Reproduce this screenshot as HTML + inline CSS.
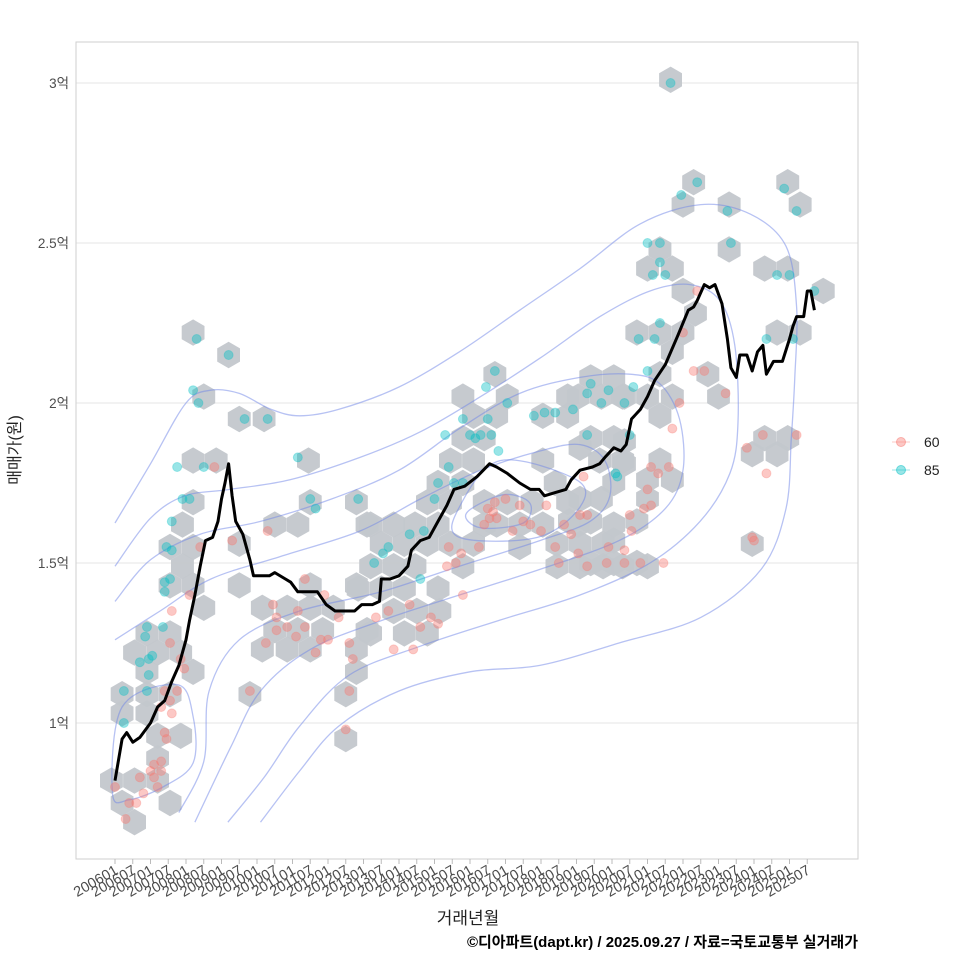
<!DOCTYPE html>
<html><head><meta charset="utf-8">
<style>
html,body{margin:0;padding:0;background:#fff;}
svg{display:block;font-family:"Liberation Sans","Noto Sans CJK KR",sans-serif;}
</style></head>
<body>
<svg id="chart" width="960" height="960" viewBox="0 0 960 960">
<rect x="0" y="0" width="960" height="960" fill="#fff"/>
<g id="grid"></g>
<g id="hexes"></g>
<g id="contours"></g>
<g id="points"></g>
<g id="trend"></g>
<rect x="76" y="42" width="782" height="817" fill="none" stroke="#cfcfcf" stroke-width="1"/>
<g id="axes"></g>
<text x="468" y="924" font-size="17" fill="#222" text-anchor="middle">거래년월</text>
<text x="20" y="450" font-size="16" fill="#222" text-anchor="middle" transform="rotate(-90 20 450)">매매가(원)</text>
<text x="858" y="947" font-size="15" font-weight="bold" fill="#000" text-anchor="end">©디아파트(dapt.kr) / 2025.09.27 / 자료=국토교통부 실거래가</text>
<g>
  <g>
    <line x1="892" y1="442" x2="910" y2="442" stroke="#F8766D" stroke-opacity="0.4" stroke-width="1"/>
    <circle cx="901" cy="442" r="4.5" fill="#F8766D" fill-opacity="0.4" stroke="#F8766D" stroke-opacity="0.5"/>
    <text x="924" y="447" font-size="14" fill="#222">60</text>
  </g>
  <g>
    <line x1="892" y1="470" x2="910" y2="470" stroke="#00BFC4" stroke-opacity="0.4" stroke-width="1"/>
    <circle cx="901" cy="470" r="4.5" fill="#00BFC4" fill-opacity="0.4" stroke="#00BFC4" stroke-opacity="0.5"/>
    <text x="924" y="475" font-size="14" fill="#222">85</text>
  </g>
</g>
</svg>
<script>
// ---- data ----
const yTicks = [1, 1.5, 2, 2.5, 3];
const yTickLabels = ["1억", "1.5억", "2억", "2.5억", "3억"];
const xTickLabels = [];
for (let y = 2006; y <= 2025; y++) { xTickLabels.push(y + "01"); xTickLabels.push(y + "07"); }

const trendYears = [2006.0,2006.2,2006.33,2006.5,2006.7,2007.0,2007.2,2007.4,2007.6,2007.8,2008.0,2008.1,2008.25,2008.4,2008.55,2008.75,2008.9,2009.0,2009.1,2009.2,2009.3,2009.4,2009.6,2009.8,2009.9,2010.15,2010.35,2010.5,2010.8,2010.95,2011.15,2011.5,2011.7,2011.95,2012.2,2012.5,2012.75,2012.95,2013.25,2013.45,2013.5,2013.75,2014.0,2014.25,2014.35,2014.6,2014.85,2015.1,2015.35,2015.55,2015.85,2016.2,2016.55,2016.75,2017.05,2017.4,2017.7,2017.95,2018.1,2018.4,2018.7,2018.85,2019.1,2019.45,2019.65,2019.8,2020.05,2020.25,2020.4,2020.55,2020.8,2021.0,2021.2,2021.5,2021.85,2022.15,2022.3,2022.4,2022.6,2022.75,2022.9,2023.1,2023.25,2023.35,2023.5,2023.6,2023.8,2023.95,2024.1,2024.25,2024.35,2024.55,2024.8,2025.0,2025.1,2025.2,2025.4,2025.5,2025.6,2025.7];
const trendPrices = [0.82,0.95,0.97,0.94,0.955,1.0,1.05,1.07,1.13,1.18,1.26,1.32,1.40,1.49,1.57,1.58,1.63,1.70,1.75,1.81,1.71,1.63,1.59,1.51,1.46,1.46,1.46,1.47,1.45,1.44,1.41,1.41,1.41,1.37,1.35,1.35,1.35,1.37,1.37,1.38,1.45,1.45,1.46,1.49,1.54,1.57,1.58,1.63,1.68,1.73,1.74,1.77,1.81,1.80,1.78,1.75,1.73,1.73,1.71,1.72,1.73,1.76,1.79,1.80,1.81,1.83,1.86,1.85,1.87,1.95,1.98,2.02,2.07,2.12,2.21,2.29,2.30,2.32,2.37,2.36,2.37,2.31,2.20,2.11,2.08,2.15,2.15,2.10,2.16,2.18,2.09,2.13,2.13,2.20,2.24,2.27,2.27,2.35,2.35,2.29];

const hexYears = [2008.2,2009.2,2008.5,2009.5,2010.2,2008.2,2008.85,2011.45,2008.2,2009.5,2007.9,2007.55,2008.2,2007.9,2007.55,2008.2,2009.5,2010.5,2011.15,2011.5,2012.8,2013.1,2012.8,2008.5,2006.9,2007.55,2006.55,2007.2,2007.85,2006.9,2008.2,2006.2,2006.9,2007.55,2006.2,2006.9,2007.2,2007.85,2007.2,2005.9,2006.55,2007.2,2006.2,2007.55,2006.55,2009.8,2010.15,2010.5,2010.85,2011.5,2011.15,2011.85,2010.15,2010.85,2011.5,2011.5,2012.15,2012.5,2012.5,2012.8,2013.1,2012.8,
2016.7,2015.8,2017.05,2016.1,2016.75,2015.8,2016.4,2015.45,2016.1,2018.05,2015.1,2015.8,2014.8,2015.45,2013.2,2013.85,2014.45,2015.1,2013.5,2014.15,2014.8,2015.45,2016.1,2016.4,2017.05,2016.75,2017.4,2017.75,2018.05,2018.75,2019.4,2020.05,2019.05,2019.7,2020.3,2018.05,2018.75,2019.4,2020.05,2018.4,2013.2,2013.85,2014.45,2015.8,2012.85,2013.5,2014.15,2015.1,2013.85,2014.5,2015.15,2014.15,2014.8,2013.2,2018.45,2019.1,2019.75,2018.45,2019.1,2019.75,2020.3,2020.05,2020.05,2020.35,2019.05,
2022.3,2022.0,2023.3,2024.95,2025.3,2021.35,2023.3,2021.0,2021.7,2024.3,2024.95,2025.95,2022.0,2022.35,2020.7,2021.35,2022.0,2021.7,2024.65,2025.3,2021.35,2022.7,2018.75,2020.35,2021.0,2021.7,2023.0,2021.35,2020.35,2024.3,2024.95,2019.1,2019.65,2020.3,2021.35,2021.7,2021.0,2021.0,2019.7,2019.1,2018.8,2019.4,2020.7,2020.05,2019.4,2020.05,2020.7,2021.0,2023.95,2023.95,2024.65,2021.65,2017.4,2016.4];
const hexPrices = [2.22,2.15,2.02,1.95,1.95,1.82,1.82,1.82,1.69,1.56,1.62,1.55,1.55,1.49,1.43,1.43,1.43,1.62,1.62,1.69,1.69,1.62,1.43,1.36,1.28,1.28,1.22,1.22,1.22,1.16,1.16,1.09,1.09,1.09,1.03,1.03,0.96,0.96,0.89,0.82,0.82,0.82,0.75,0.75,0.69,1.09,1.36,1.29,1.36,1.36,1.29,1.29,1.23,1.23,1.23,1.43,1.36,1.09,0.95,1.16,1.29,1.23,
2.09,2.02,2.02,1.96,1.96,1.89,1.89,1.82,1.82,1.82,1.75,1.75,1.69,1.69,1.62,1.62,1.62,1.62,1.56,1.56,1.56,1.56,1.56,1.69,1.69,1.62,1.62,1.69,1.62,1.69,2.08,2.08,2.02,2.02,2.02,1.96,1.96,1.89,1.89,1.75,1.49,1.49,1.49,1.49,1.42,1.42,1.42,1.42,1.35,1.35,1.35,1.28,1.28,1.28,1.56,1.56,1.56,1.49,1.49,1.49,1.49,1.62,1.75,1.81,1.62,
2.69,2.62,2.62,2.69,2.62,2.48,2.48,2.42,2.42,2.42,2.42,2.35,2.35,2.28,2.22,2.22,2.22,2.16,2.22,2.22,2.09,2.09,2.02,2.02,2.02,2.02,2.02,1.96,1.88,1.89,1.89,1.86,1.82,1.82,1.82,1.76,1.76,1.70,1.70,1.70,1.63,1.63,1.63,1.57,1.50,1.50,1.50,1.49,1.56,1.84,1.84,3.01,1.55,1.62];

const tealYears = [2008.3,2009.2,2008.2,2008.35,2009.65,2010.3,2007.9,2008.5,2011.15,2011.65,2011.5,2007.6,2008.1,2007.45,2007.6,2007.4,2007.55,2007.4,2006.85,2006.9,2006.95,2007.05,2006.9,2006.95,2006.25,2006.25,2007.35,2006.7,2007.75,2012.85,2013.3,2013.7,2014.3,2014.6,2013.55,2015.0,2015.4,2015.3,2015.8,2016.0,2016.15,2016.3,2016.5,2016.6,2016.8,2016.45,2016.7,2015.55,2015.8,2014.7,2015.1,2017.05,2017.8,2018.1,2018.4,2018.9,2019.3,2019.4,2019.9,2019.7,2020.5,2020.1,2019.3,2020.35,2020.6,2021.0,2021.2,2021.35,2020.75,2021.15,2021.35,2021.35,2021.0,2021.5,2021.65,2021.95,2022.4,2023.25,2023.35,2024.85,2025.2,2024.65,2025.0,2025.7,2024.35,2025.1,2020.15];
const tealPrices = [2.2,2.15,2.04,2.0,1.95,1.95,1.7,1.8,1.83,1.67,1.7,1.63,1.7,1.55,1.54,1.41,1.45,1.44,1.27,1.3,1.2,1.21,1.1,1.15,1.1,1.0,1.3,1.19,1.8,1.7,1.5,1.55,1.59,1.45,1.53,1.7,1.8,1.9,1.95,1.9,1.89,1.9,1.95,1.9,1.85,2.05,2.1,1.75,1.75,1.6,1.75,2.0,1.96,1.97,1.97,1.98,2.03,2.06,2.04,2.0,1.9,1.78,1.9,2.0,2.05,2.1,2.2,2.25,2.2,2.4,2.44,2.5,2.5,2.4,3.0,2.65,2.69,2.6,2.5,2.67,2.6,2.4,2.4,2.35,2.2,2.2,1.77];

const redYears = [2006.0,2006.3,2006.4,2006.6,2006.8,2007.2,2007.1,2007.0,2007.3,2006.7,2007.1,2007.3,2007.45,2007.4,2007.6,2007.3,2007.4,2007.55,2007.75,2007.85,2007.95,2007.55,2007.6,2008.1,2008.4,2008.8,2009.3,2009.8,2010.25,2010.55,2010.85,2011.1,2010.55,2011.15,2011.35,2010.45,2011.65,2011.8,2012.0,2012.5,2012.6,2012.7,2012.6,2012.3,2011.9,2011.35,2010.3,2013.35,2013.7,2013.85,2014.3,2014.6,2014.4,2014.9,2015.1,2015.35,2015.6,2015.75,2015.4,2015.8,2016.25,2016.4,2016.55,2016.65,2016.75,2016.7,2016.5,2017.0,2017.2,2017.4,2017.5,2017.7,2018.0,2018.15,2018.4,2018.5,2018.65,2018.85,2019.1,2019.3,2019.05,2019.3,2019.85,2019.9,2020.35,2020.55,2020.35,2020.8,2020.5,2020.9,2021.0,2021.3,2021.1,2021.6,2021.1,2021.45,2021.7,2021.9,2022.3,2022.0,2022.6,2023.2,2022.4,2023.95,2023.8,2024.0,2024.35,2024.25,2025.2,2019.2];
const redPrices = [0.8,0.7,0.75,0.75,0.78,0.8,0.83,0.85,0.85,0.83,0.87,0.88,0.95,0.97,1.03,1.05,1.1,1.07,1.1,1.2,1.17,1.25,1.35,1.4,1.55,1.8,1.57,1.1,1.25,1.29,1.3,1.27,1.33,1.35,1.45,1.37,1.22,1.26,1.26,0.98,1.25,1.2,1.1,1.33,1.4,1.3,1.6,1.33,1.35,1.23,1.37,1.3,1.23,1.33,1.31,1.49,1.5,1.53,1.55,1.4,1.55,1.62,1.64,1.66,1.64,1.69,1.67,1.7,1.6,1.68,1.63,1.62,1.6,1.68,1.55,1.5,1.62,1.59,1.65,1.65,1.53,1.49,1.5,1.55,1.54,1.6,1.5,1.5,1.65,1.67,1.73,1.78,1.8,1.8,1.68,1.5,1.92,2.0,2.1,2.22,2.1,2.03,2.35,1.58,1.86,1.57,1.78,1.9,1.9,1.77];

// density contour lines (year, price)
const contourA_x = [2006.0,2007.0,2008.0,2008.7,2009.5,2010.4,2011.2,2012.3,2014.0,2015.7,2017.4,2019.1,2020.8,2022.5,2023.9,2024.9,2025.2,2025.15,2025.05,2024.9,2024.2,2022.5,2020.2,2017.97,2016.0,2014.0,2012.3,2011.2,2010.1];
const contourA_y = [1.625,1.81,2.0,2.04,2.03,1.98,1.96,1.98,2.05,2.16,2.29,2.42,2.56,2.62,2.59,2.49,2.3,2.08,1.89,1.67,1.48,1.33,1.25,1.18,1.16,1.1,0.99,0.85,0.69];
const contourB_x = [2006.0,2007.0,2007.97,2009.24,2010.93,2012.9,2014.6,2016.3,2017.97,2019.66,2021.07,2022.2,2023.04,2023.46,2023.55,2023.32,2022.48,2021.07,2019.1,2016.8,2014.6,2012.6,2011.2,2010.2,2009.18];
const contourB_y = [1.49,1.64,1.71,1.73,1.76,1.83,1.91,2.02,2.14,2.27,2.35,2.37,2.32,2.18,1.94,1.78,1.63,1.5,1.4,1.32,1.24,1.15,0.99,0.83,0.69];
const contourC_x = [2006.0,2007.0,2008.4,2010.1,2012.1,2014.0,2015.7,2017.4,2019.1,2020.5,2021.35,2021.9,2022.0,2021.5,2020.2,2017.97,2015.7,2013.5,2011.5,2010.1,2009.24,2008.25];
const contourC_y = [1.38,1.51,1.59,1.63,1.70,1.79,1.92,2.03,2.08,2.09,2.06,1.95,1.79,1.67,1.57,1.48,1.40,1.32,1.23,1.10,0.92,0.69];
const contourD_x = [2006.0,2007.27,2008.7,2010.65,2012.9,2014.6,2016.3,2017.97,2019.1,2019.8,2019.94,2019.38,2017.97,2015.7,2013.5,2011.2,2009.5,2008.65,2008.5,2007.8];
const contourD_y = [1.26,1.35,1.45,1.52,1.60,1.70,1.79,1.85,1.87,1.82,1.71,1.63,1.57,1.49,1.41,1.35,1.26,1.10,0.88,0.72];
const contourE1_x = [2015.7,2016.85,2019.0,2019.1,2017.9,2015.7];
const contourE1_y = [1.675,1.82,1.76,1.675,1.58,1.58];
const contourE2_x = [2015.9,2016.92,2017.68,2017.5,2016.3];
const contourE2_y = [1.656,1.713,1.688,1.625,1.61];
const contourL1_x = [2006.2,2007.75,2008.2,2008.2,2007.35,2006.4,2005.93];
const contourL1_y = [1.05,1.12,1.02,0.875,0.80,0.76,0.78];

// ---- scales ----
const X0 = 115, PX_PER_YEAR = 35.5;
function sx(year){ return X0 + (year - 2006) * PX_PER_YEAR; }
function sy(price){ return 723 - (price - 1) * 320; }
const NS = "http://www.w3.org/2000/svg";
function mk(tag, parent){ const e = document.createElementNS(NS, tag); parent.appendChild(e); return e; }

// grid & axes
const grid = document.getElementById('grid');
const axes = document.getElementById('axes');
yTicks.forEach((v, i) => {
  const l = mk('line', grid);
  
  
  l.setAttribute('x1', 76); l.setAttribute('x2', 858);
  l.setAttribute('y1', sy(v)); l.setAttribute('y2', sy(v));
  l.setAttribute('stroke', '#e6e6e6'); l.setAttribute('stroke-width', '1');
  const t = mk('text', axes);
  
  
  t.setAttribute('x', 69); t.setAttribute('y', sy(v) + 5);
  t.setAttribute('text-anchor', 'end'); t.setAttribute('font-size', '13.5'); t.setAttribute('fill', '#4d4d4d');
  t.textContent = yTickLabels[i];
});
xTickLabels.forEach((lab, i) => {
  const yr = 2006 + i * 0.5;
  const x = sx(yr);
  const tk = mk('line', axes);
  
  
  tk.setAttribute('x1', x); tk.setAttribute('x2', x); tk.setAttribute('y1', 859); tk.setAttribute('y2', 864);
  tk.setAttribute('stroke', '#bbb');
  const t = mk('text', axes);
  
  
  t.setAttribute('x', x + 4); t.setAttribute('y', 873);
  t.setAttribute('text-anchor', 'end'); t.setAttribute('font-size', '14.5'); t.setAttribute('fill', '#4d4d4d');
  t.setAttribute('transform', 'rotate(-30 ' + (x + 4) + ' 873)');
  t.textContent = lab;
});

// hexes
const hexG = document.getElementById('hexes');
const R = 13.2;
hexYears.forEach((yr, i) => {
  const cx = sx(yr), cy = sy(hexPrices[i]);
  let pts = [];
  for (let k = 0; k < 6; k++) {
    const a = Math.PI / 180 * (60 * k - 90);
    pts.push((cx + R * Math.cos(a)).toFixed(1) + ',' + (cy + R * Math.sin(a)).toFixed(1));
  }
  const p = mk('polygon', hexG);
  
  
  p.setAttribute('points', pts.join(' '));
  p.setAttribute('fill', '#c3c7cc'); p.setAttribute('fill-opacity', '0.95');
});

// contours (catmull-rom smoothing)
function smoothPath(xs, ys, closed){
  const P = xs.map((x, i) => [sx(x), sy(ys[i])]);
  const n = P.length;
  const get = i => closed ? P[(i + n) % n] : P[Math.max(0, Math.min(n - 1, i))];
  let d = 'M' + P[0][0].toFixed(1) + ',' + P[0][1].toFixed(1);
  const segs = closed ? n : n - 1;
  for (let i = 0; i < segs; i++) {
    const p0 = get(i - 1), p1 = get(i), p2 = get(i + 1), p3 = get(i + 2);
    const c1 = [p1[0] + (p2[0] - p0[0]) / 6, p1[1] + (p2[1] - p0[1]) / 6];
    const c2 = [p2[0] - (p3[0] - p1[0]) / 6, p2[1] - (p3[1] - p1[1]) / 6];
    d += ' C' + c1[0].toFixed(1) + ',' + c1[1].toFixed(1) + ' ' + c2[0].toFixed(1) + ',' + c2[1].toFixed(1) + ' ' + p2[0].toFixed(1) + ',' + p2[1].toFixed(1);
  }
  if (closed) d += 'Z';
  return d;
}
const cG = document.getElementById('contours');
[[contourA_x, contourA_y, false], [contourB_x, contourB_y, false], [contourC_x, contourC_y, false],
 [contourD_x, contourD_y, false], [contourE1_x, contourE1_y, true], [contourE2_x, contourE2_y, true],
 [contourL1_x, contourL1_y, true]].forEach(c => {
  const p = mk('path', cG);
  
  
  p.setAttribute('d', smoothPath(c[0], c[1], c[2]));
  p.setAttribute('fill', 'none'); p.setAttribute('stroke', '#6f86e8'); p.setAttribute('stroke-opacity', '0.5'); p.setAttribute('stroke-width', '1.3');
});

// points
const ptG = document.getElementById('points');
function drawPts(xs, ys, col, name){
  xs.forEach((yr, i) => {
    const c = mk('circle', ptG);
    
    
    c.setAttribute('cx', sx(yr)); c.setAttribute('cy', sy(ys[i])); c.setAttribute('r', '4.5');
    c.setAttribute('fill', col); c.setAttribute('fill-opacity', '0.4');
    c.setAttribute('stroke', col); c.setAttribute('stroke-opacity', '0.3');
  });
}
drawPts(redYears, redPrices, '#F8766D', 'point-60');
drawPts(tealYears, tealPrices, '#00BFC4', 'point-85');

// trend line
const tG = document.getElementById('trend');
const line = mk('polyline', tG);


line.setAttribute('points', trendYears.map((yr, i) => sx(yr).toFixed(1) + ',' + sy(trendPrices[i]).toFixed(1)).join(' '));
line.setAttribute('fill', 'none'); line.setAttribute('stroke', '#000'); line.setAttribute('stroke-width', '3'); line.setAttribute('stroke-linejoin', 'round');
</script>
</body></html>
